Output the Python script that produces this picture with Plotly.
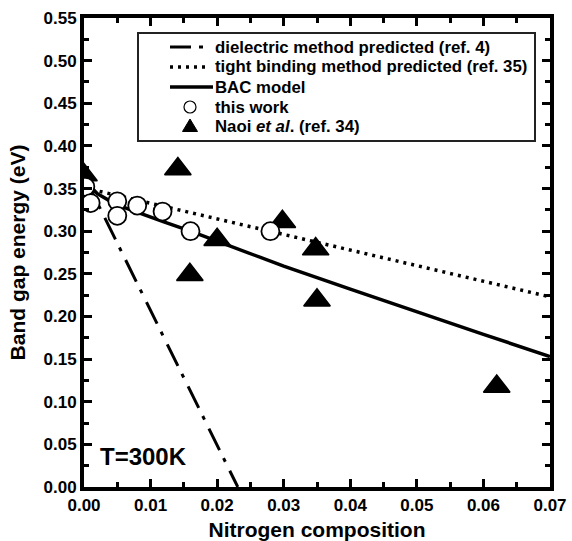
import plotly.graph_objects as go

# ---------------- data ----------------
this_work_x = [0.0002, 0.001, 0.005, 0.005, 0.008, 0.0118, 0.016, 0.028]
this_work_y = [0.352, 0.333, 0.335, 0.318, 0.330, 0.323, 0.300, 0.300]

naoi_x = [0.0, 0.0141, 0.0159, 0.0200, 0.0298, 0.0348, 0.0350, 0.0620]
naoi_y = [0.366, 0.373, 0.249, 0.290, 0.311, 0.279, 0.219, 0.118]

bac_x = [0.0, 0.001, 0.002, 0.004, 0.006, 0.009, 0.012, 0.016, 0.020, 0.025, 0.030, 0.040, 0.050, 0.060, 0.070]
bac_y = [0.370, 0.352, 0.344, 0.335, 0.328, 0.320, 0.311, 0.300, 0.288, 0.273, 0.259, 0.232, 0.205, 0.179, 0.153]

tight_x = [0.0, 0.07]
tight_y = [0.351, 0.223]

diel_x = [0.0, 0.0231]
diel_y = [0.365, 0.0]

x_ticks = [0.00, 0.01, 0.02, 0.03, 0.04, 0.05, 0.06, 0.07]
y_ticks = [0.00, 0.05, 0.10, 0.15, 0.20, 0.25, 0.30, 0.35, 0.40, 0.45, 0.50, 0.55]

legend_labels = [
    "dielectric method predicted (ref. 4)",
    "tight binding method predicted (ref. 35)",
    "BAC model",
    "this work",
    "Naoi <i>et al</i>. (ref. 34)",
]

FONT = "Liberation Sans, Arial, Helvetica, sans-serif"
W, H = 572, 541
L, R, T, B = 84, 22, 18, 54
PW, PH = W - L - R, H - T - B


def px(x):
    return (x - L) / PW


def py(y):
    return (H - B - y) / PH


fig = go.Figure()

fig.add_trace(go.Scatter(x=diel_x, y=diel_y, mode="lines",
                         line=dict(color="black", width=3, dash="24px,9px,4px,10px"),
                         showlegend=False, hoverinfo="skip"))
fig.add_trace(go.Scatter(x=tight_x, y=tight_y, mode="lines",
                         line=dict(color="black", width=3.5, dash="3px,5px"),
                         showlegend=False, hoverinfo="skip"))
fig.add_trace(go.Scatter(x=bac_x, y=bac_y, mode="lines",
                         line=dict(color="black", width=3.5),
                         showlegend=False, hoverinfo="skip"))
fig.add_trace(go.Scatter(x=naoi_x, y=naoi_y, mode="markers",
                         marker=dict(symbol="triangle-up", size=23, color="black",
                                     line=dict(color="black", width=1.5)),
                         showlegend=False))
fig.add_trace(go.Scatter(x=this_work_x, y=this_work_y, mode="markers",
                         marker=dict(symbol="circle", size=18, color="white",
                                     line=dict(color="black", width=1.8)),
                         showlegend=False))

# ---------------- manual legend ----------------
shapes = []
annotations = []
shapes.append(dict(type="rect", xref="paper", yref="paper",
                   x0=px(138), x1=px(535), y0=py(141), y1=py(33),
                   line=dict(color="#222", width=2), fillcolor="white", layer="above"))
rows = [47, 67, 87, 107, 126]
shapes.append(dict(type="line", xref="paper", yref="paper", x0=px(170), x1=px(205),
                   y0=py(rows[0]), y1=py(rows[0]),
                   line=dict(color="black", width=3, dash="21px,8px,4px,10px"), layer="above"))
shapes.append(dict(type="line", xref="paper", yref="paper", x0=px(170), x1=px(208),
                   y0=py(rows[1]), y1=py(rows[1]),
                   line=dict(color="black", width=3.5, dash="3px,5px"), layer="above"))
shapes.append(dict(type="line", xref="paper", yref="paper", x0=px(170), x1=px(213),
                   y0=py(rows[2]), y1=py(rows[2]),
                   line=dict(color="black", width=3.5), layer="above"))
shapes.append(dict(type="circle", xref="paper", yref="paper", x0=px(184), x1=px(196),
                   y0=py(rows[3] + 6), y1=py(rows[3] - 6),
                   line=dict(color="black", width=1.2), fillcolor="white", layer="above"))
tri = "M {},{} L {},{} L {},{} Z".format(px(182.5), py(rows[4] + 5.5), px(197.5), py(rows[4] + 5.5),
                                       px(190), py(rows[4] - 7))
shapes.append(dict(type="path", xref="paper", yref="paper", path=tri,
                   line=dict(color="black", width=1), fillcolor="black", layer="above"))
for lab, r in zip(legend_labels, rows):
    annotations.append(dict(text=lab, xref="paper", yref="paper", x=px(213), y=py(r),
                            xanchor="left", yanchor="middle", showarrow=False,
                            font=dict(family=FONT, size=16.8, color="black", weight="bold")))

annotations.append(dict(text="T=300K", xref="paper", yref="paper", x=px(98), y=py(456.5),
                        xanchor="left", yanchor="middle", showarrow=False,
                        font=dict(family=FONT, size=24, color="black", weight="bold")))

axis_common = dict(
    showline=True, linecolor="black", linewidth=4, mirror="allticks",
    ticks="inside", ticklen=8, tickwidth=3, tickcolor="black",
    showgrid=False, zeroline=False, automargin=False,
    tickfont=dict(family=FONT, size=17, color="black", weight="bold"),
    tickformat=".2f",
)

fig.update_layout(
    width=W, height=H,
    margin=dict(l=L, r=R, t=T, b=B),
    paper_bgcolor="white", plot_bgcolor="white",
    showlegend=False,
    shapes=shapes, annotations=annotations,
    xaxis=dict(range=[0, 0.07], tickvals=x_ticks,
               minor=dict(ticks="inside", ticklen=5, tickwidth=3, tickcolor="black", dtick=0.005),
               title=dict(text="Nitrogen composition", standoff=10,
                          font=dict(family=FONT, size=21, color="black", weight="bold")),
               **axis_common),
    yaxis=dict(range=[0, 0.55], tickvals=y_ticks,
               minor=dict(ticks="inside", ticklen=5, tickwidth=3, tickcolor="black", dtick=0.025),
               title=dict(text="Band gap energy (eV)", standoff=13,
                          font=dict(family=FONT, size=21, color="black", weight="bold")),
               **axis_common),
)

fig.write_html("out.html", config={"displayModeBar": False},
               post_script="document.body.style.margin='0';")
